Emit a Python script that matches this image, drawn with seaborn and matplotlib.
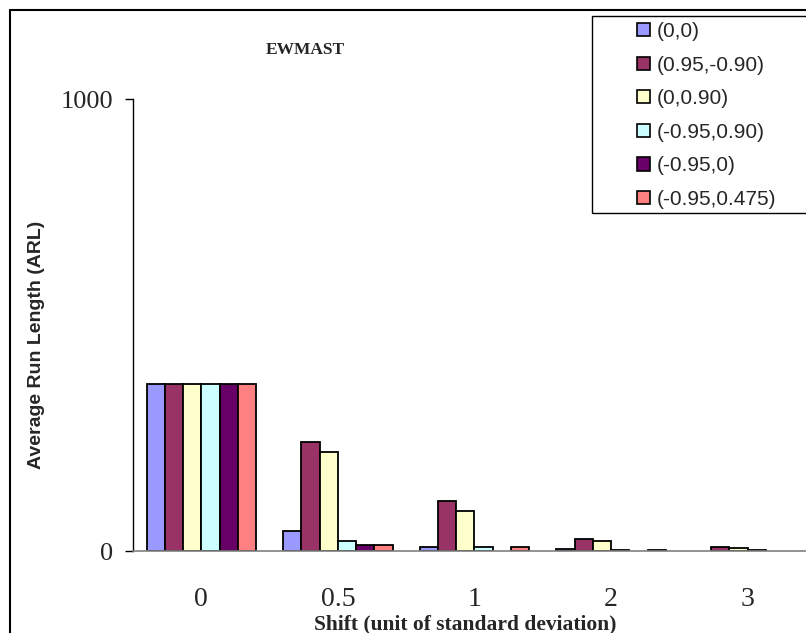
import numpy as np
import pandas as pd
import seaborn as sns
import matplotlib
matplotlib.use("Agg")
import matplotlib.pyplot as plt
from matplotlib.lines import Line2D
from matplotlib.patches import Rectangle

# Shift sizes (in units of standard deviation)
shift_labels = ["0", "0.5", "1", "2", "3"]

# ARL of the EWMAST chart for each (phi, theta) setting
series_labels = ["(0,0)", "(0.95,-0.90)", "(0,0.90)",
                 "(-0.95,0.90)", "(-0.95,0)", "(-0.95,0.475)"]
arl_0_0 = [370, 44, 9, 4, np.nan]
arl_095_m090 = [370, 242, 111, 27, 9]
arl_0_090 = [370, 218, 89, 22, 7]
arl_m095_090 = [370, 22, 9, 3, 3]
arl_m095_0 = [370, 13, np.nan, np.nan, np.nan]
arl_m095_0475 = [370, 13, 9, 2, np.nan]

series_values = [arl_0_0, arl_095_m090, arl_0_090,
                 arl_m095_090, arl_m095_0, arl_m095_0475]
colors = ["#9999FF", "#993366", "#FFFFCC", "#CCFFFF", "#660066", "#FF8080"]

rows = []
for lab, vals in zip(series_labels, series_values):
    for s, v in zip(shift_labels, vals):
        rows.append({"shift": s, "arl": v, "setting": lab})
df = pd.DataFrame(rows).dropna()

sns.set_style("white")
plt.rcParams["font.family"] = ["Liberation Serif", "DejaVu Serif"]

W, H = 806, 633
fig = plt.figure(figsize=(W / 100, H / 100), dpi=100)
ax = fig.add_axes([133 / W, (H - 551) / H, 683 / W, (551 - 99) / H])

sns.barplot(data=df, x="shift", y="arl", hue="setting",
            order=shift_labels, hue_order=series_labels, palette=colors,
            saturation=1, edgecolor="black", linewidth=1.3, width=0.8, gap=0,
            errorbar=None, legend=False, ax=ax)

ax.set_xlim(-0.5, 4.5)
ax.set_ylim(0, 1000)
ax.set_yticks([0, 1000])
ax.set_yticklabels(["0", "1000"], fontsize=19)
ax.set_xticks(range(len(shift_labels)))
ax.set_xticklabels(shift_labels, fontsize=20)
ax.set_xticks(np.arange(-0.5, 4.6, 1.0), minor=True)
ax.tick_params(axis="x", which="major", length=0, pad=26)
ax.tick_params(axis="x", which="minor", length=6, width=1, color="black",
               direction="out")
ax.tick_params(axis="y", which="major", length=6, width=1, color="black",
               direction="out", left=True, pad=8)
ax.set_xlabel("")
ax.set_ylabel("")

for side in ("top", "right"):
    ax.spines[side].set_visible(False)
ax.spines["left"].set_color("black")
ax.spines["left"].set_linewidth(1.0)
ax.spines["bottom"].set_color("#808080")
ax.spines["bottom"].set_linewidth(1.2)
ax.set_facecolor("white")

# Titles and axis labels
fig.text(305 / W, 1 - 50 / H, "EWMAST", ha="center", va="center",
         fontsize=12.5, fontweight="bold", family="Liberation Serif")
fig.text(465 / W, 1 - 624 / H, "Shift (unit of standard deviation)",
         ha="center", va="center", fontsize=15.5, fontweight="bold",
         family="Liberation Serif")
fig.text(37 / W, 1 - 345 / H, "Average Run Length (ARL)", ha="center",
         va="center", rotation=90, fontsize=14, fontweight="bold",
         family="Liberation Sans")

# Legend
handles = [Rectangle((0, 0), 1, 1, facecolor=c, edgecolor="black", linewidth=1.2)
           for c in colors]
leg = fig.legend(handles, series_labels, loc="upper left",
                 bbox_to_anchor=(637 / W, 1 - 22 / H), frameon=False,
                 prop={"family": "Liberation Sans", "size": 15},
                 handlelength=0.6, handleheight=0.6, handletextpad=0.35,
                 labelspacing=0.7, borderpad=0.0, borderaxespad=0.0)
fig.add_artist(Rectangle((592 / W, 1 - 213 / H), 240 / W, (213 - 16) / H,
                         transform=fig.transFigure, facecolor="none",
                         edgecolor="black", linewidth=1.0))

# Figure frame
fig.add_artist(Line2D([10 / W, 1.0], [1 - 10 / H, 1 - 10 / H],
                      transform=fig.transFigure, color="black", linewidth=1.5))
fig.add_artist(Line2D([10 / W, 10 / W], [0.0, 1 - 10 / H],
                      transform=fig.transFigure, color="black", linewidth=1.5))

fig.savefig("out.png", dpi=100, facecolor="white")
